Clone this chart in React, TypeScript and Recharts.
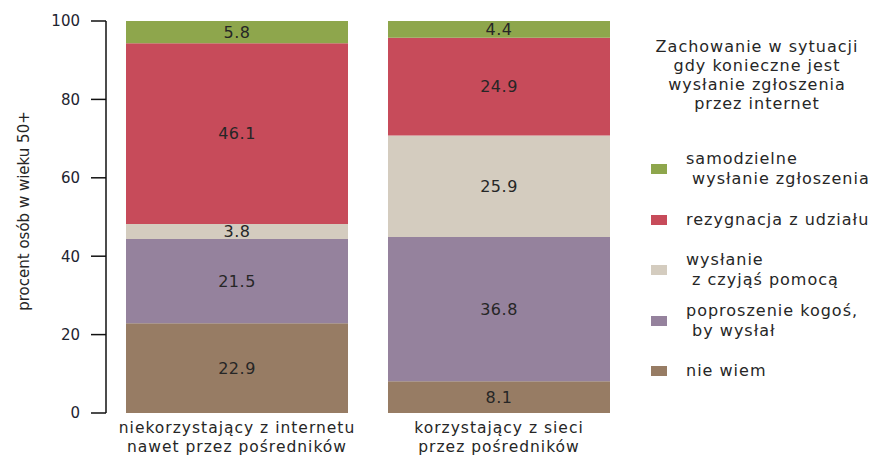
import { Bar, BarChart, LabelList, XAxis, YAxis } from "recharts";

// categories (x axis), two lines each
const groups = [
  ["niekorzystający z internetu", "nawet przez pośredników"],
  ["korzystający z sieci", "przez pośredników"],
];

// series values, stacked bottom -> top
const nieWiem = [22.9, 8.1];
const poproszenie = [21.5, 36.8];
const zPomoca = [3.8, 25.9];
const rezygnacja = [46.1, 24.9];
const samodzielne = [5.8, 4.4];

const yTicks = [0, 20, 40, 60, 80, 100];

const legendTitle = [
  "Zachowanie w sytuacji",
  "gdy konieczne jest",
  "wysłanie zgłoszenia",
  "przez internet",
];

const series = [
  { key: "nieWiem", values: nieWiem, color: "#977c64", label: ["nie wiem"] },
  { key: "poproszenie", values: poproszenie, color: "#95829d", label: ["poproszenie kogoś,", " by wysłał"] },
  { key: "zPomoca", values: zPomoca, color: "#d4ccbf", label: ["wysłanie", " z czyjąś pomocą"] },
  { key: "rezygnacja", values: rezygnacja, color: "#c74b5a", label: ["rezygnacja z udziału"] },
  { key: "samodzielne", values: samodzielne, color: "#8ea64c", label: ["samodzielne", " wysłanie zgłoszenia"] },
];

const data = groups.map((g, i) => {
  const row: Record<string, any> = { name: g.join("\n") };
  series.forEach((s) => (row[s.key] = s.values[i]));
  return row;
});

const FONT = "'DejaVu Sans', sans-serif";
const TEXT = "#262626";

function XTick(props: any) {
  const { x, y, payload } = props;
  const lines = String(payload.value).split("\n");
  return (
    <g>
      {lines.map((l, i) => (
        <text
          key={i}
          x={x}
          y={y + 12 + i * 18.5}
          textAnchor="middle"
          fontSize={15.5}
          letterSpacing={1}
          fill={TEXT}
          fontFamily={FONT}
        >
          {l}
        </text>
      ))}
    </g>
  );
}

function LegendBox() {
  return (
    <div
      style={{
        position: "absolute",
        left: 640,
        top: 37,
        width: 233,
        fontFamily: FONT,
        color: TEXT,
        fontSize: 16,
        letterSpacing: 1,
      }}
    >
      <div style={{ textAlign: "center", lineHeight: "19px", width: 234, whiteSpace: "nowrap" }}>
        {legendTitle.map((t) => (
          <div key={t}>{t}</div>
        ))}
      </div>
      <div style={{ marginTop: 31 }}>
        {[...series].reverse().map((s) => (
          <div key={s.key} style={{ display: "flex", alignItems: "center", height: 50.5 }}>
            <div style={{ width: 16, height: 10, background: s.color, marginLeft: 11, marginRight: 19, flexShrink: 0 }} />
            <div style={{ lineHeight: "20px", whiteSpace: "pre" }}>
              {s.label.map((l) => (
                <div key={l}>{l}</div>
              ))}
            </div>
          </div>
        ))}
      </div>
    </div>
  );
}

export default function App() {
  return (
    <div style={{ position: "relative", width: 873, height: 456 }}>
      <style>{`body{margin:0}`}</style>
      <BarChart
        width={873}
        height={456}
        data={data}
        margin={{ top: 21, right: 243, bottom: 0, left: 0 }}
        barCategoryGap={20}
      >
        <XAxis
          dataKey="name"
          axisLine={false}
          tickLine={false}
          tick={<XTick />}
          interval={0}
          height={43}
        />
        <YAxis
          width={106}
          domain={[0, 100]}
          ticks={yTicks}
          allowDataOverflow
          axisLine={{ stroke: "#111", strokeWidth: 1.5 }}
          tickLine={{ stroke: "#111", strokeWidth: 1.5 }}
          tickSize={15}
          tickMargin={11}
          tick={{ fontSize: 15, fill: "#1e2430", fontFamily: FONT }}
          label={{
            content: () => (
              <text
                x={24}
                y={211}
                transform="rotate(-90 24 211)"
                textAnchor="middle"
                dominantBaseline="central"
                fontSize={15}
                fill={TEXT}
                fontFamily={FONT}
              >
                procent osób w wieku 50+
              </text>
            ),
          }}
        />
        {series.map((s) => (
          <Bar key={s.key} dataKey={s.key} stackId="a" fill={s.color} barSize={222} isAnimationActive={false}>
            <LabelList
              dataKey={s.key}
              position="center"
              fill={TEXT}
              fontSize={16}
              letterSpacing={0.5}
              fontFamily={FONT}
              formatter={(v: any) => Number(v).toFixed(1)}
            />
          </Bar>
        ))}
      </BarChart>
      <LegendBox />
    </div>
  );
}
